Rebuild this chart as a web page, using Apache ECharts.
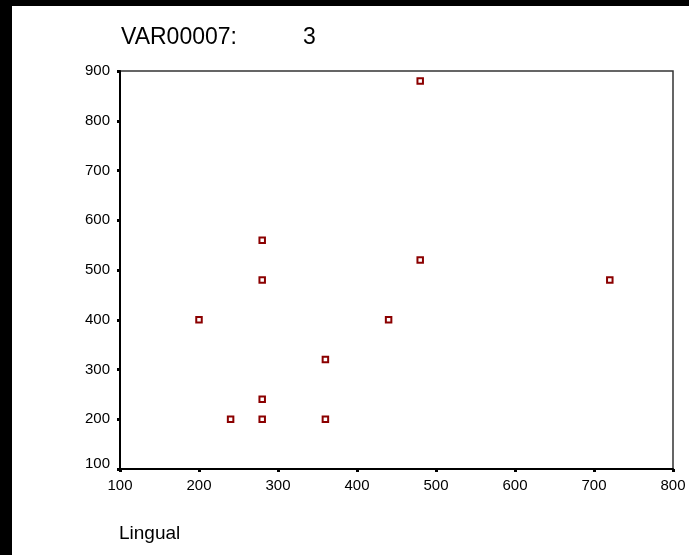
<!DOCTYPE html>
<html>
<head>
<meta charset="utf-8">
<script src="https://cdn.jsdelivr.net/npm/echarts@6/dist/echarts.min.js"></script>
<style>
html,body{margin:0;padding:0;background:#fff;}
#chart{width:689px;height:555px;}
</style>
</head>
<body>
<div id="chart"></div>
<script>
var titleText = 'VAR00007:';
var groupValue = '3';
var xName = 'Lingual';
var lingual = [480, 280, 480, 720, 280, 200, 440, 360, 280, 240, 280, 360];
var yValues = [880, 560, 520, 480, 480, 400, 400, 320, 240, 200, 200, 200];

var points = lingual.map(function (x, i) { return [x, yValues[i]]; });
var FONT = '"Liberation Sans", Arial, sans-serif';

var chart = echarts.init(document.getElementById('chart'), null, {renderer: 'canvas'});
chart.setOption({
  backgroundColor: '#fff',
  animation: false,
  grid: {left: 120, top: 71, right: 16, bottom: 86, show: true, borderColor: '#333', borderWidth: 1.5, backgroundColor: 'transparent'},
  xAxis: {
    type: 'value', min: 100, max: 800, interval: 100,
    axisLine: {show: true, lineStyle: {color: '#000', width: 2}},
    axisTick: {show: true, length: 3, lineStyle: {color: '#000', width: 3}},
    axisLabel: {color: '#000', fontSize: 15, fontFamily: FONT, margin: 9},
    splitLine: {show: false}
  },
  yAxis: {
    type: 'value', min: 100, max: 900, interval: 100,
    axisLine: {show: true, lineStyle: {color: '#000', width: 2}},
    axisTick: {show: true, length: 3, lineStyle: {color: '#000', width: 3}},
    axisLabel: {
      color: '#000', fontSize: 15, fontFamily: FONT, margin: 10,
      formatter: function (v) { return v === 100 ? '{lo|' + v + '}' : String(v); },
      rich: {lo: {fontSize: 15, fontFamily: FONT, color: '#000', padding: [0, 0, 10, 0]}}
    },
    splitLine: {show: false}
  },
  series: [{
    type: 'scatter',
    data: points,
    symbol: 'rect',
    symbolSize: 5.5,
    itemStyle: {color: '#fff', borderColor: '#8b0000', borderWidth: 2, opacity: 1}
  }],
  graphic: [
    {type: 'rect', left: 0, top: 0, shape: {x: 0, y: 0, width: 12, height: 555}, style: {fill: '#000'}},
    {type: 'rect', left: 0, top: 0, shape: {x: 0, y: 0, width: 689, height: 6}, style: {fill: '#000'}},
    {type: 'text', x: 121, y: 38, style: {text: titleText, fill: '#000', font: '23px ' + FONT, textVerticalAlign: 'middle', textAlign: 'left'}},
    {type: 'text', x: 303, y: 38, style: {text: groupValue, fill: '#000', font: '23px ' + FONT, textVerticalAlign: 'middle', textAlign: 'left'}},
    {type: 'text', x: 119, y: 534, style: {text: xName, fill: '#000', font: '19px ' + FONT, textVerticalAlign: 'middle', textAlign: 'left'}}
  ]
});
</script>
</body>
</html>
